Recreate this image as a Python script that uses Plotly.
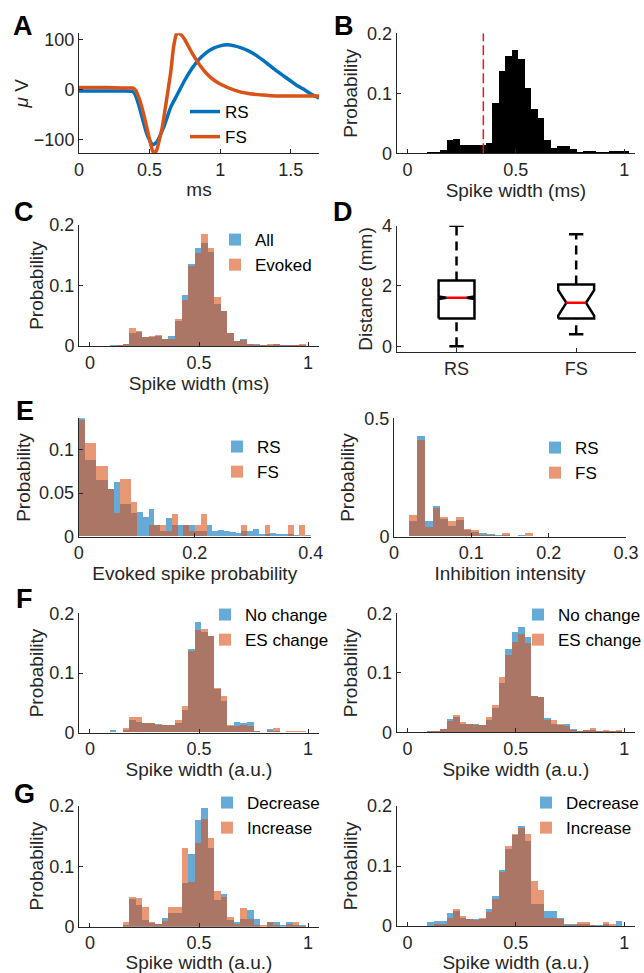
import plotly.graph_objects as go

FONT = "Liberation Sans, Arial, Helvetica, sans-serif"
W, H = 644, 973

# ---------------- data ----------------
# Panel A: mean waveforms
wave_t_rs = [0, 0.1, 0.2, 0.3, 0.38, 0.4, 0.42, 0.45, 0.48, 0.5, 0.52, 0.55, 0.6, 0.65, 0.7, 0.75, 0.8,
             0.85, 0.9, 0.95, 1.0, 1.05, 1.1, 1.15, 1.2, 1.25, 1.3, 1.35, 1.4, 1.45, 1.5, 1.55, 1.6, 1.65, 1.7]
wave_rs = [-3, -3, -3, -3, -4, -11, -28, -58, -88, -101, -110, -105, -75, -35, -8, 19, 42,
           60, 73, 82, 87, 89, 87, 83, 77, 69, 59, 48, 37, 27, 17, 7, -1, -10, -17]
wave_t_fs = [0, 0.1, 0.2, 0.3, 0.38, 0.4, 0.43, 0.46, 0.49, 0.52, 0.535, 0.55, 0.59, 0.62, 0.65, 0.67,
             0.69, 0.7, 0.72, 0.75, 0.8, 0.85, 0.9, 0.95, 1.0, 1.1, 1.2, 1.3, 1.4, 1.5, 1.6, 1.7]
wave_fs = [4, 4, 4, 3, 3, -1, -21, -51, -88, -121, -127, -121, -75, -21, 35, 85,
           110, 112, 110, 99, 73, 51, 33, 20, 11, -1, -8, -11, -13, -13, -13, -13]

# spike-width histograms (bin width 0.03, bins [0,0.03), [0.03,0.06) ...)
sw_bin_width = 0.03
sw_centers = [0.015, 0.045, 0.075, 0.105, 0.135, 0.165, 0.195, 0.225, 0.255, 0.285, 0.315, 0.345,
              0.375, 0.405, 0.435, 0.465, 0.495, 0.525, 0.555, 0.585, 0.615, 0.645, 0.675, 0.705,
              0.735, 0.765, 0.795, 0.825, 0.855, 0.885, 0.915, 0.945, 0.975, 1.005]
# Panel B
b_all = [0, 0, 0, 0.001, 0.001, 0.005, 0.021, 0.023, 0.014, 0.013, 0.014, 0.013, 0.017, 0.084,
         0.136, 0.162, 0.172, 0.156, 0.108, 0.073, 0.058, 0.021, 0.009, 0.011, 0.012, 0.006,
         0.001, 0.003, 0.004, 0.001, 0.001, 0.002, 0.002, 0.003]
b_threshold = 0.35
# Panel C
c_all = [0, 0, 0, 0.001, 0.001, 0.004, 0.021, 0.023, 0.015, 0.015, 0.016, 0.011, 0.0165, 0.041,
         0.085, 0.135, 0.1625, 0.17, 0.156, 0.069, 0.058, 0.021, 0.009, 0.0115, 0.004, 0.004,
         0.001, 0.002, 0.004, 0.001, 0.002, 0.002, 0.002, 0]
c_evoked = [0, 0, 0, 0, 0.001, 0.003, 0.029, 0.025, 0.015, 0.017, 0.018, 0.011, 0.011, 0.044,
            0.076, 0.132, 0.153, 0.185, 0.1625, 0.0815, 0.058, 0.021, 0.009, 0.010, 0.003, 0.002,
            0.001, 0.003, 0.003, 0.001, 0.002, 0.002, 0.003, 0]
# Panel F
f1_nochange = [0, 0, 0, 0.004, 0, 0.004, 0.021, 0.018, 0.016, 0.015, 0.014, 0.012, 0.013, 0.016,
               0.038, 0.139, 0.185, 0.169, 0.161, 0.073, 0.052, 0.010, 0.017, 0.015, 0.018, 0.003,
               0.001, 0.005, 0.003, 0.001, 0, 0.001, 0.001, 0]
f1_eschange = [0, 0, 0, 0, 0, 0.007, 0.025, 0.026, 0.015, 0.015, 0.013, 0.013, 0.013, 0.020,
               0.045, 0.136, 0.172, 0.173, 0.162, 0.074, 0.061, 0.012, 0.010, 0.012, 0.010, 0.002,
               0.001, 0.002, 0.007, 0.001, 0.003, 0.002, 0.003, 0]
f2_nochange = [0, 0, 0, 0.001, 0.001, 0.005, 0.022, 0.025, 0.014, 0.014, 0.014, 0.012, 0.021, 0.040,
               0.083, 0.139, 0.168, 0.176, 0.159, 0.061, 0.059, 0.0235, 0.014, 0.012, 0.014, 0.005,
               0.002, 0.003, 0.004, 0.001, 0.001, 0.001, 0.002, 0]
f2_eschange = [0, 0, 0, 0.001, 0.002, 0.005, 0.018, 0.029, 0.016, 0.013, 0.012, 0.012, 0.026, 0.046,
               0.092, 0.130, 0.152, 0.165, 0.150, 0.060, 0.059, 0.021, 0.021, 0.014, 0.010, 0.003,
               0.002, 0.004, 0.007, 0.001, 0.003, 0.002, 0.004, 0]
# Panel G
g1_decrease = [0, 0, 0, 0, 0, 0.004, 0.047, 0.037, 0.011, 0.0066, 0.005, 0.015, 0.023, 0.023,
               0.073, 0.121, 0.177, 0.196, 0.130, 0.044, 0.055, 0.012, 0.009, 0.014, 0.0275, 0.013,
               0, 0.009, 0.009, 0.003, 0.009, 0.004, 0.004, 0]
g1_increase = [0, 0, 0, 0, 0, 0.008, 0.050, 0.048, 0.033, 0.008, 0.005, 0.010, 0.033, 0.033,
               0.131, 0.074, 0.139, 0.179, 0.147, 0.060, 0.050, 0.0165, 0.005, 0.031, 0.014, 0.004,
               0.004, 0.008, 0.004, 0, 0.005, 0.009, 0.002, 0]
g2_decrease = [0, 0, 0, 0.007, 0.008, 0.008, 0.021, 0.025, 0.014, 0.012, 0.012, 0.012, 0.029, 0.050,
               0.093, 0.128, 0.152, 0.166, 0.142, 0.037, 0.036, 0.025, 0.025, 0.013, 0.004, 0.003,
               0.003, 0.004, 0.002, 0.002, 0.003, 0, 0.008, 0]
g2_increase = [0, 0, 0, 0, 0.003, 0.004, 0.014, 0.029, 0.016, 0.012, 0.010, 0.014, 0.023, 0.045,
               0.090, 0.133, 0.154, 0.163, 0.154, 0.075, 0.060, 0.013, 0.014, 0.011, 0.002, 0.002,
               0.007, 0.007, 0.002, 0, 0.007, 0.003, 0, 0]

# Panel D: box statistics (mm)
box_names = ["RS", "FS"]
box_pos = [1, 2]
box_lo = [0.0, 0.40]
box_q1 = [0.92, 0.92]
box_med = [1.61, 1.44]
box_q3 = [2.18, 2.05]
box_hi = [4.0, 3.72]
box_notch = [0.04, 0.42]

# Panel E left: evoked spike probability (bin width 0.01)
esp_bin_width = 0.01
esp_centers = [0.005, 0.015, 0.025, 0.035, 0.045, 0.055, 0.065, 0.075, 0.085, 0.095, 0.105, 0.115,
               0.125, 0.135, 0.145, 0.155, 0.165, 0.175, 0.185, 0.195, 0.205, 0.215, 0.225, 0.235,
               0.245, 0.255, 0.265, 0.275, 0.285, 0.295, 0.305, 0.315, 0.325, 0.335, 0.345, 0.355,
               0.365, 0.375, 0.385, 0.395]
esp_rs = [0.136, 0.088, 0.088, 0.065, 0.065, 0.054, 0.062, 0.037, 0.037, 0.027, 0.028, 0.022,
          0.032, 0.013, 0.006, 0.021, 0.013, 0.013, 0.013, 0.013, 0.006, 0.006, 0.013, 0.006,
          0.007, 0.0065, 0.005, 0.004, 0.006, 0.006, 0.008, 0.003, 0.003, 0.004, 0.003, 0.003,
          0.003, 0.002, 0.001, 0.002]
esp_fs = [0.134, 0.107, 0.107, 0.081, 0.081, 0.054, 0.027, 0.066, 0.066, 0.039, 0, 0,
          0.013, 0.013, 0.013, 0.006, 0.026, 0, 0.013, 0.006, 0.013, 0.026, 0, 0,
          0, 0, 0, 0, 0.013, 0, 0, 0, 0.013, 0, 0, 0,
          0.013, 0, 0.013, 0]
# Panel E right: inhibition intensity (bin width 0.01)
inh_bin_width = 0.01
inh_centers = [0.025, 0.035, 0.045, 0.055, 0.065, 0.075, 0.085, 0.095, 0.105, 0.115, 0.125, 0.135,
               0.145, 0.155, 0.165, 0.175, 0.185, 0.195, 0.205, 0.215, 0.225, 0.235]
inh_rs = [0.063, 0.425, 0.065, 0.127, 0.073, 0.046, 0.070, 0.028, 0.020, 0.013, 0.010, 0.004,
          0.006, 0.003, 0.006, 0.002, 0.001, 0.002, 0.002, 0.002, 0.001, 0.001]
inh_fs = [0.092, 0.406, 0.039, 0.120, 0.080, 0.063, 0.080, 0.032, 0.025, 0.007, 0.004, 0,
          0.013, 0, 0, 0.013, 0, 0, 0, 0, 0, 0]

# ---------------- styling ----------------
BLUE = "rgb(0,114,189)"
ORANGE = "rgb(217,83,25)"
BLUE_A = "rgba(0,114,189,0.6)"
ORANGE_A = "rgba(217,83,25,0.6)"
AXC = "#262626"
TICKF = 18
TITLEF = 19
LEGF = 17


def px_x(p):
    return p / W


def px_y(p):
    return 1 - p / H


fig = go.Figure()

# panel geometry: (x0, x1, ytop, ybottom) in pixels
panels = {
    1: (79, 319, 33.3, 153.3),
    2: (396.7, 635, 33.3, 153.3),
    3: (79, 319, 225, 346),
    4: (396.7, 636, 225.7, 352.3),
    5: (78.7, 310.7, 418.3, 536.7),
    6: (394, 626, 418.3, 536.7),
    7: (79, 319, 613.3, 732.7),
    8: (396.7, 635, 613.3, 732.3),
    9: (79, 319, 805.7, 926.7),
    10: (396.7, 635, 806, 926),
}


def axis_names(i):
    return ("xaxis" if i == 1 else f"xaxis{i}", "yaxis" if i == 1 else f"yaxis{i}",
            "x" if i == 1 else f"x{i}", "y" if i == 1 else f"y{i}")


layout_axes = {}


def set_axes(i, xr, yr, xtv, ytv, xtitle, ytitle, xtt=None, ytt=None, ystand=4):
    xa, ya, xr_, yr_ = axis_names(i)
    x0, x1, yt, yb = panels[i]
    common = dict(showline=True, linecolor=AXC, linewidth=1, ticks="inside", ticklen=4,
                  tickcolor=AXC, tickwidth=1, showgrid=False, zeroline=False, automargin=False,
                  tickfont=dict(family=FONT, size=TICKF, color=AXC))
    xd = dict(common, domain=[px_x(x0), px_x(x1)], range=xr, anchor=yr_, tickvals=xtv,
              title=dict(text=xtitle, font=dict(family=FONT, size=TITLEF, color=AXC), standoff=3))
    if xtt is not None:
        xd["ticktext"] = xtt
    yd = dict(common, domain=[px_y(yb), px_y(yt)], range=yr, anchor=xr_, tickvals=ytv,
              title=dict(text=ytitle, font=dict(family=FONT, size=TITLEF, color=AXC), standoff=ystand))
    if ytt is not None:
        yd["ticktext"] = ytt
    layout_axes[xa] = xd
    layout_axes[ya] = yd
    return xr_, yr_


def hist_pair(i, centers, width, s1, s2, n1, n2, legend):
    xr_, yr_ = axis_names(i)[2:]
    fig.add_trace(go.Bar(x=centers, y=s1, width=width, marker=dict(color=BLUE_A, line=dict(width=0)),
                         name=n1, xaxis=xr_, yaxis=yr_, legend=legend, legendgroup=legend + "a"))
    fig.add_trace(go.Bar(x=centers, y=s2, width=width, marker=dict(color=ORANGE_A, line=dict(width=0)),
                         name=n2, xaxis=xr_, yaxis=yr_, legend=legend, legendgroup=legend + "b"))


# ---- A ----
ymin_a = min(min(wave_rs), min(wave_fs))
ymax_a = max(max(wave_rs), max(wave_fs))
xa_, ya_ = set_axes(1, [0, 1.7], [ymin_a, ymax_a], [0, 0.5, 1, 1.5], [-100, 0, 100], "ms", "<i>μ</i> V",
                    ystand=0)
fig.add_trace(go.Scatter(x=wave_t_rs, y=wave_rs, mode="lines", line=dict(color=BLUE, width=3.5, shape="spline", smoothing=0.6),
                         name="RS", xaxis=xa_, yaxis=ya_, legend="legend", legendgroup="la"))
fig.add_trace(go.Scatter(x=wave_t_fs, y=wave_fs, mode="lines", line=dict(color=ORANGE, width=3.5, shape="spline", smoothing=0.4),
                         name="FS", xaxis=xa_, yaxis=ya_, legend="legend", legendgroup="lb"))

# ---- B ----
xb_, yb_ = set_axes(2, [-0.05, 1.05], [0, 0.2], [0, 0.5, 1], [0, 0.1, 0.2], "Spike width (ms)", "Probability")
fig.add_trace(go.Bar(x=sw_centers, y=b_all, width=sw_bin_width, marker=dict(color="black", line=dict(width=0)),
                     showlegend=False, xaxis=xb_, yaxis=yb_))
fig.add_shape(type="line", xref=xb_, yref=yb_, x0=b_threshold, x1=b_threshold, y0=0, y1=0.2,
              line=dict(color="rgb(240,20,20)", width=1.5, dash="10px,4px"))

# ---- C ----
set_axes(3, [-0.05, 1.05], [0, 0.2], [0, 0.5, 1], [0, 0.1, 0.2], "Spike width (ms)", "Probability", ystand=0)
hist_pair(3, sw_centers, sw_bin_width, c_all, c_evoked, "All", "Evoked", "legend2")

# ---- D ----
xd_, yd_ = set_axes(4, [0.5, 2.5], [-0.2, 4.0], box_pos, [0, 2, 4], None, "Distance (mm)", xtt=box_names)
half_w, notch_in, cap_half = 0.15, 0.55 * 0.15, 0.06
for p, lo, q1, m, q3, hi, n in zip(box_pos, box_lo, box_q1, box_med, box_q3, box_hi, box_notch):
    fig.add_trace(go.Scatter(
        x=[p - half_w, p - half_w, p - notch_in, p - half_w, p - half_w, p + half_w, p + half_w, p + notch_in,
           p + half_w, p + half_w, p - half_w],
        y=[q1, m - n, m, m + n, q3, q3, m + n, m, m - n, q1, q1],
        mode="lines", line=dict(color="black", width=2.5), showlegend=False, xaxis=xd_, yaxis=yd_))
    fig.add_trace(go.Scatter(x=[p, p, None, p, p], y=[q3, hi, None, lo, q1], mode="lines",
                             line=dict(color="black", width=2.5, dash="9px,6px"), showlegend=False,
                             xaxis=xd_, yaxis=yd_))
    fig.add_trace(go.Scatter(x=[p - cap_half, p + cap_half, None, p - cap_half, p + cap_half],
                             y=[hi, hi, None, lo, lo], mode="lines", line=dict(color="black", width=2.5),
                             showlegend=False, xaxis=xd_, yaxis=yd_))
    fig.add_trace(go.Scatter(x=[p - notch_in, p + notch_in], y=[m, m], mode="lines",
                             line=dict(color="red", width=2.5), showlegend=False, xaxis=xd_, yaxis=yd_))

# ---- E ----
set_axes(5, [0, 0.4], [0, max(max(esp_rs), max(esp_fs))], [0, 0.2, 0.4], [0, 0.05, 0.1],
         "Evoked spike probability", "Probability", ystand=3)
hist_pair(5, esp_centers, esp_bin_width, esp_rs, esp_fs, "RS", "FS", "legend3")
set_axes(6, [0, 0.3], [0, 0.5], [0, 0.1, 0.2, 0.3], [0, 0.5], "Inhibition intensity", "Probability")
hist_pair(6, inh_centers, inh_bin_width, inh_rs, inh_fs, "RS", "FS", "legend4")

# ---- F ----
set_axes(7, [-0.05, 1.05], [0, 0.2], [0, 0.5, 1], [0, 0.1, 0.2], "Spike width (a.u.)", "Probability", ystand=0)
hist_pair(7, sw_centers, sw_bin_width, f1_nochange, f1_eschange, "No change", "ES change", "legend5")
set_axes(8, [-0.05, 1.05], [0, 0.2], [0, 0.5, 1], [0, 0.1, 0.2], "Spike width (a.u.)", "Probability")
hist_pair(8, sw_centers, sw_bin_width, f2_nochange, f2_eschange, "No change", "ES change", "legend6")

# ---- G ----
set_axes(9, [-0.05, 1.05], [0, 0.2], [0, 0.5, 1], [0, 0.1, 0.2], "Spike width (a.u.)", "Probability", ystand=0)
hist_pair(9, sw_centers, sw_bin_width, g1_decrease, g1_increase, "Decrease", "Increase", "legend7")
set_axes(10, [-0.05, 1.05], [0, 0.2], [0, 0.5, 1], [0, 0.1, 0.2], "Spike width (a.u.)", "Probability")
hist_pair(10, sw_centers, sw_bin_width, g2_decrease, g2_increase, "Decrease", "Increase", "legend8")


def legend_at(xpx, ypx):
    return dict(x=px_x(xpx), y=px_y(ypx), xanchor="left", yanchor="top", bgcolor="rgba(0,0,0,0)",
                borderwidth=0, font=dict(family=FONT, size=LEGF, color="black"), tracegroupgap=0,
                traceorder="grouped")


legends = {
    "legend": legend_at(185, 94),
    "legend2": legend_at(215, 222),
    "legend3": legend_at(217, 429),
    "legend4": legend_at(535, 430),
    "legend5": legend_at(205, 597),
    "legend6": legend_at(518, 597),
    "legend7": legend_at(207, 785),
    "legend8": legend_at(526, 785),
}

letters = [("A", 11, 9), ("B", 332, 9), ("C", 12, 195), ("D", 331, 195), ("E", 14, 394),
           ("F", 14, 582), ("G", 12, 777)]
annotations = [dict(text=f"<b>{t}</b>", x=px_x(x), y=px_y(y), xref="paper", yref="paper",
                    xanchor="left", yanchor="top", showarrow=False,
                    font=dict(family=FONT, size=27, color="black")) for t, x, y in letters]

fig.update_layout(
    template="none",
    width=W, height=H, margin=dict(l=0, r=0, t=0, b=0, autoexpand=False),
    paper_bgcolor="white", plot_bgcolor="white",
    barmode="overlay", bargap=0, showlegend=True,
    font=dict(family=FONT, size=TICKF, color=AXC),
    annotations=annotations,
    **layout_axes, **legends,
)

fig.write_html("out.html", config={"displayModeBar": False},
               post_script="document.body.style.margin='0';document.body.style.padding='0';"
                           "document.documentElement.style.overflow='hidden';")
